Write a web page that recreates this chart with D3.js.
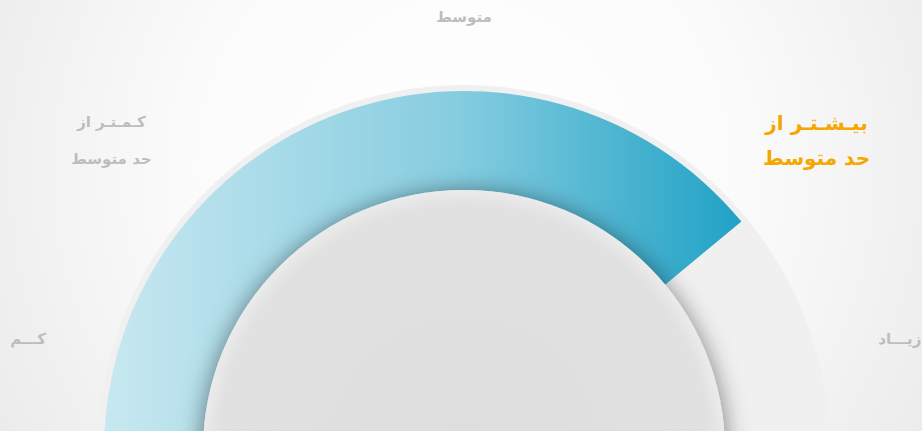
<!DOCTYPE html>
<html>
<head>
<meta charset="utf-8">
<script src="https://cdn.jsdelivr.net/npm/d3@7/dist/d3.min.js"></script>
<style>
  html, body { margin: 0; padding: 0; background: #fff; overflow: hidden; }
  #container { width: 922px; height: 431px; }
  text { font-family: "DejaVu Sans", sans-serif; }
</style>
</head>
<body>
<div id="container"></div>
<script>
// gauge data
const categories = ["کـــم", "کـمـتـر از|حد متوسط", "متوسط", "بیـشـتـر از|حد متوسط", "زیـــاد"];
const categoryTicks = [8, 23, 50, 77, 92];
const gaugeValue = 78;
const activeCategory = 3;

const width = 922, height = 431;
const cx = 464, cy = 451;
const ringRadius = 366, outerRadius = 360, innerRadius = 261;
const labelRadius = [450, 470, 434, 470, 450];

const main = (container) => {
    const svg = d3.select(container)
        .append("svg")
        .attr("width", width)
        .attr("height", height);

    const defs = svg.append("defs");

    const bg = defs.append("radialGradient")
        .attr("id", "bg")
        .attr("gradientUnits", "userSpaceOnUse")
        .attr("cx", cx).attr("cy", 170).attr("r", 620);
    bg.append("stop").attr("offset", 0).attr("stop-color", "#ffffff");
    bg.append("stop").attr("offset", 0.45).attr("stop-color", "#fbfbfb");
    bg.append("stop").attr("offset", 1).attr("stop-color", "#e6e6e6");

    // gradient in the gauge group's own coordinates
    const blue = defs.append("linearGradient")
        .attr("id", "blue")
        .attr("gradientUnits", "userSpaceOnUse")
        .attr("x1", -outerRadius).attr("x2", 745 - cx)
        .attr("y1", 0).attr("y2", 0);
    blue.append("stop").attr("offset", 0).attr("stop-color", "#c8e8f0");
    blue.append("stop").attr("offset", 0.55).attr("stop-color", "#86cde0");
    blue.append("stop").attr("offset", 1).attr("stop-color", "#1fa1c5");

    const disc = defs.append("radialGradient")
        .attr("id", "disc");
    disc.append("stop").attr("offset", 0).attr("stop-color", "#dedede");
    disc.append("stop").attr("offset", 0.94).attr("stop-color", "#e1e1e1");
    disc.append("stop").attr("offset", 1).attr("stop-color", "#ebebeb");

    const shadow = defs.append("filter")
        .attr("id", "shadow")
        .attr("x", "-20%").attr("y", "-20%")
        .attr("width", "140%").attr("height", "140%");
    shadow.append("feDropShadow")
        .attr("dx", 0).attr("dy", 3)
        .attr("stdDeviation", 12)
        .attr("flood-color", "#000")
        .attr("flood-opacity", 0.5);

    svg.append("rect")
        .attr("width", width)
        .attr("height", height)
        .attr("fill", "url(#bg)");

    const angle = d3.scaleLinear()
        .domain([0, 100])
        .range([-Math.PI / 2, Math.PI / 2]);

    const g = svg.append("g")
        .attr("transform", `translate(${cx},${cy})`);

    g.append("circle")
        .attr("r", ringRadius)
        .attr("fill", "#f0f0f0");

    const arc = d3.arc()
        .innerRadius(innerRadius)
        .outerRadius(outerRadius)
        .startAngle(angle(0))
        .endAngle(angle(gaugeValue));

    g.append("path")
        .attr("d", arc())
        .attr("fill", "url(#blue)");

    g.append("circle")
        .attr("r", innerRadius)
        .attr("fill", "url(#disc)")
        .attr("filter", "url(#shadow)");

    // labels
    categories.forEach((label, i) => {
        const a = angle(categoryTicks[i]);
        const x = cx + labelRadius[i] * Math.sin(a);
        const y = cy - labelRadius[i] * Math.cos(a);
        const lines = label.split("|");
        const active = i === activeCategory;
        const lineGap = active ? 35 : 37;
        const t = svg.append("text")
            .attr("x", x)
            .attr("y", y)
            .attr("text-anchor", "middle")
            .attr("direction", "rtl")
            .style("font-size", active ? "20px" : "15px")
            .style("font-weight", "bold")
            .attr("fill", active ? "#f5a700" : "#bdbdbd");
        lines.forEach((line, j) => {
            t.append("tspan")
                .attr("x", x)
                .attr("y", y + (j - (lines.length - 1) / 2) * lineGap)
                .attr("dy", "0.35em")
                .text(line);
        });
    });
};

const container = document.getElementById("container");
main(container);
</script>
</body>
</html>
